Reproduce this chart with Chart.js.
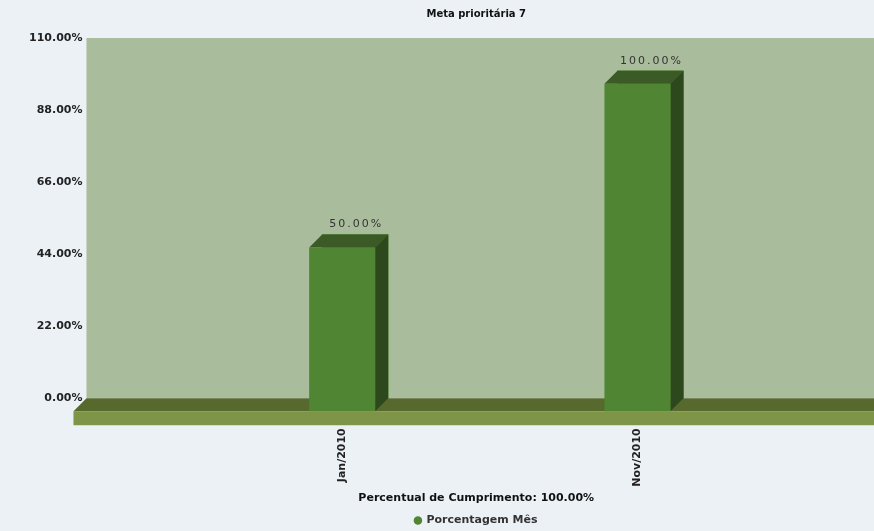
<!DOCTYPE html>
<html>
<head>
<meta charset="utf-8">
<script src="https://cdn.jsdelivr.net/npm/chart.js@4.4.0/dist/chart.umd.min.js"></script>
<style>
  html, body { margin: 0; padding: 0; background: #ecf1f6; overflow: hidden; }
  #wrap { width: 874px; height: 531px; }
</style>
</head>
<body>
<div id="wrap"><canvas id="chart" width="874" height="531"></canvas></div>
<script>
// data
const categories = ['Jan/2010', 'Nov/2010']
const percentMes = [50, 100]
const yTicks = [0, 22, 44, 66, 88, 110]
const chartTitle = 'Meta prioritária 7'
const xTitle = 'Percentual de Cumprimento: 100.00%'
const seriesName = 'Porcentagem Mês'

const DEPTH = 13 // 3d offset of the boxes and the floor
const FONT = '"DejaVu Sans", Verdana, sans-serif'

const pct = v => Number(v).toFixed(2) + '%'

//wall + floor go under everything, labels are drawn on top of them
const wallFloor = {
  id: 'wallFloor',
  beforeDraw(chart) {
    const { ctx, chartArea: a, scales: { y } } = chart
    const base = y.getPixelForValue(0)
    const right = chart.width
    ctx.save()
    ctx.fillStyle = '#a9bd9d'
    ctx.fillRect(a.left, a.top, right - a.left, base - a.top)
    // floor top
    ctx.fillStyle = '#57692d'
    ctx.beginPath()
    ctx.moveTo(a.left, base)
    ctx.lineTo(right, base)
    ctx.lineTo(right, base + DEPTH)
    ctx.lineTo(a.left - DEPTH, base + DEPTH)
    ctx.closePath()
    ctx.fill()
    // floor front
    ctx.fillStyle = '#7e9447'
    ctx.fillRect(a.left - DEPTH, base + DEPTH, right - a.left + DEPTH, 14)
    ctx.restore()
  }
}

//turns each flat bar into a box: the bar element is the back face
const boxes = {
  id: 'boxes',
  afterDatasetsDraw(chart) {
    const { ctx } = chart
    const meta = chart.getDatasetMeta(0)
    ctx.save()
    meta.data.forEach((bar, i) => {
      const { x, y, base, width } = bar.getProps(['x', 'y', 'base', 'width'], true)
      const l = x - width / 2, r = x + width / 2, d = DEPTH
      // top
      ctx.fillStyle = '#3b5a26'
      ctx.beginPath()
      ctx.moveTo(l - d, y + d); ctx.lineTo(l, y); ctx.lineTo(r, y); ctx.lineTo(r - d, y + d)
      ctx.closePath(); ctx.fill()
      // side
      ctx.fillStyle = '#2e481d'
      ctx.beginPath()
      ctx.moveTo(r - d, y + d); ctx.lineTo(r, y); ctx.lineTo(r, base); ctx.lineTo(r - d, base + d)
      ctx.closePath(); ctx.fill()
      // front
      ctx.fillStyle = '#4f8533'
      ctx.fillRect(l - d, y + d, width, base - y)
      // value label
      ctx.fillStyle = '#333'
      ctx.font = '11px ' + FONT
      ctx.letterSpacing = '2px'
      ctx.textAlign = 'center'
      ctx.textBaseline = 'middle'
      ctx.fillText(pct(percentMes[i]), x + 1, y - 10)
    })
    ctx.restore()
  }
}

new Chart(document.getElementById('chart'), {
  type: 'bar',
  data: {
    datasets: [{
      label: seriesName,
      data: categories.map((c, i) => ({ x: i, y: percentMes[i] })),
      backgroundColor: '#4f8533',
      borderWidth: 0,
      barThickness: 66
    }]
  },
  options: {
    responsive: false,
    animation: false,
    devicePixelRatio: 1,
    layout: { padding: { top: 6, right: 8, bottom: -5, left: 25 } },
    scales: {
      x: {
        type: 'linear',
        offset: false,
        min: -0.91,
        max: 1.73,
        afterBuildTicks: scale => { scale.ticks = categories.map((c, i) => ({ value: i })) },
        afterFit: scale => { scale.height -= 29 },
        grid: { display: false, drawTicks: false },
        border: { display: false },
        ticks: {
          autoSkip: false,
          minRotation: 90,
          maxRotation: 90,
          padding: 30,
          labelOffset: -DEPTH,
          color: '#222',
          font: { family: FONT, size: 11, weight: 'bold' },
          callback: v => categories[v]
        },
        title: {
          display: true,
          text: xTitle,
          color: '#111',
          font: { family: FONT, size: 11, weight: 'bold' },
          padding: { top: 4, bottom: 9 }
        }
      },
      y: {
        min: 0,
        max: 110,
        afterBuildTicks: scale => { scale.ticks = yTicks.map(v => ({ value: v })) },
        grid: { display: false, drawTicks: false },
        border: { display: false },
        ticks: {
          padding: 4,
          color: '#222',
          font: { family: FONT, size: 11, weight: 'bold' },
          callback: v => pct(v)
        }
      }
    },
    plugins: {
      title: {
        display: true,
        text: chartTitle,
        fullSize: false,
        color: '#111',
        font: { family: FONT, size: 10, weight: 'bold' },
        padding: { top: 2, bottom: 18 }
      },
      legend: {
        position: 'bottom',
        fullSize: false,
        labels: {
          usePointStyle: true,
          pointStyle: 'circle',
          boxWidth: 6,
          boxHeight: 6,
          padding: 1,
          color: '#333',
          font: { family: FONT, size: 11, weight: 'bold' }
        }
      },
      tooltip: { enabled: false }
    }
  },
  plugins: [wallFloor, boxes]
})
</script>
</body>
</html>
